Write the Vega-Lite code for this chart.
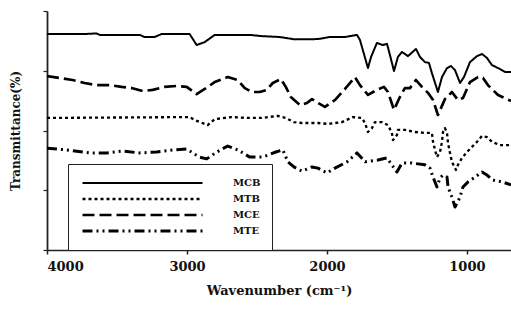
{
  "$schema": "https://vega.github.io/schema/vega-lite/v6.json",
  "width": 464,
  "height": 239,
  "autosize": "none",
  "padding": {"left": 47, "top": 11, "right": 0, "bottom": 59},
  "background": "white",
  "config": {
    "view": {"stroke": null},
    "font": "DejaVu Serif",
    "legend": {"symbolStrokeColor": "black"}
  },
  "datasets": {
    "spectra": [
      {"w": 4000, "t": 72.3, "s": "MCB"}, {"w": 3732, "t": 72.3, "s": "MCB"}, {"w": 3646, "t": 72.5, "s": "MCB"}, {"w": 3624, "t": 72.0, "s": "MCB"}, {"w": 3338, "t": 72.0, "s": "MCB"}, {"w": 3303, "t": 71.3, "s": "MCB"}, {"w": 3231, "t": 71.3, "s": "MCB"}, {"w": 3181, "t": 72.3, "s": "MCB"}, {"w": 2981, "t": 72.3, "s": "MCB"}, {"w": 2931, "t": 68.6, "s": "MCB"}, {"w": 2873, "t": 69.6, "s": "MCB"}, {"w": 2802, "t": 72.0, "s": "MCB"}, {"w": 2551, "t": 72.0, "s": "MCB"}, {"w": 2466, "t": 71.6, "s": "MCB"}, {"w": 2338, "t": 71.3, "s": "MCB"}, {"w": 2229, "t": 70.5, "s": "MCB"}, {"w": 2064, "t": 70.6, "s": "MCB"}, {"w": 1979, "t": 71.3, "s": "MCB"}, {"w": 1871, "t": 71.3, "s": "MCB"}, {"w": 1785, "t": 72.0, "s": "MCB"}, {"w": 1764, "t": 70.3, "s": "MCB"}, {"w": 1707, "t": 60.9, "s": "MCB"}, {"w": 1685, "t": 64.6, "s": "MCB"}, {"w": 1643, "t": 69.3, "s": "MCB"}, {"w": 1600, "t": 68.6, "s": "MCB"}, {"w": 1571, "t": 69.0, "s": "MCB"}, {"w": 1550, "t": 65.3, "s": "MCB"}, {"w": 1521, "t": 59.9, "s": "MCB"}, {"w": 1493, "t": 64.6, "s": "MCB"}, {"w": 1464, "t": 66.3, "s": "MCB"}, {"w": 1421, "t": 64.9, "s": "MCB"}, {"w": 1364, "t": 67.3, "s": "MCB"}, {"w": 1335, "t": 64.6, "s": "MCB"}, {"w": 1300, "t": 62.9, "s": "MCB"}, {"w": 1271, "t": 62.6, "s": "MCB"}, {"w": 1250, "t": 59.2, "s": "MCB"}, {"w": 1207, "t": 52.9, "s": "MCB"}, {"w": 1178, "t": 57.9, "s": "MCB"}, {"w": 1142, "t": 60.9, "s": "MCB"}, {"w": 1114, "t": 61.6, "s": "MCB"}, {"w": 1085, "t": 60.2, "s": "MCB"}, {"w": 1049, "t": 55.9, "s": "MCB"}, {"w": 1021, "t": 57.9, "s": "MCB"}, {"w": 978, "t": 62.9, "s": "MCB"}, {"w": 928, "t": 64.9, "s": "MCB"}, {"w": 892, "t": 65.6, "s": "MCB"}, {"w": 857, "t": 64.3, "s": "MCB"}, {"w": 821, "t": 61.9, "s": "MCB"}, {"w": 778, "t": 60.9, "s": "MCB"}, {"w": 728, "t": 59.6, "s": "MCB"}, {"w": 685, "t": 59.6, "s": "MCB"},

      {"w": 4000, "t": 44.2, "s": "MTB"}, {"w": 2981, "t": 44.5, "s": "MTB"}, {"w": 2945, "t": 43.5, "s": "MTB"}, {"w": 2852, "t": 41.8, "s": "MTB"}, {"w": 2802, "t": 43.8, "s": "MTB"}, {"w": 2680, "t": 44.5, "s": "MTB"}, {"w": 2566, "t": 44.2, "s": "MTB"}, {"w": 2466, "t": 44.2, "s": "MTB"}, {"w": 2351, "t": 44.9, "s": "MTB"}, {"w": 2294, "t": 44.2, "s": "MTB"}, {"w": 2236, "t": 42.8, "s": "MTB"}, {"w": 2179, "t": 42.5, "s": "MTB"}, {"w": 2064, "t": 42.5, "s": "MTB"}, {"w": 1993, "t": 42.2, "s": "MTB"}, {"w": 1893, "t": 42.8, "s": "MTB"}, {"w": 1814, "t": 44.5, "s": "MTB"}, {"w": 1750, "t": 44.2, "s": "MTB"}, {"w": 1728, "t": 42.5, "s": "MTB"}, {"w": 1707, "t": 39.5, "s": "MTB"}, {"w": 1678, "t": 40.8, "s": "MTB"}, {"w": 1657, "t": 42.8, "s": "MTB"}, {"w": 1607, "t": 42.8, "s": "MTB"}, {"w": 1564, "t": 41.8, "s": "MTB"}, {"w": 1536, "t": 39.2, "s": "MTB"}, {"w": 1528, "t": 36.8, "s": "MTB"}, {"w": 1500, "t": 38.5, "s": "MTB"}, {"w": 1493, "t": 40.2, "s": "MTB"}, {"w": 1443, "t": 40.2, "s": "MTB"}, {"w": 1371, "t": 39.5, "s": "MTB"}, {"w": 1300, "t": 39.2, "s": "MTB"}, {"w": 1250, "t": 39.2, "s": "MTB"}, {"w": 1242, "t": 36.2, "s": "MTB"}, {"w": 1228, "t": 33.5, "s": "MTB"}, {"w": 1214, "t": 31.1, "s": "MTB"}, {"w": 1192, "t": 32.8, "s": "MTB"}, {"w": 1178, "t": 36.2, "s": "MTB"}, {"w": 1171, "t": 39.5, "s": "MTB"}, {"w": 1157, "t": 40.8, "s": "MTB"}, {"w": 1142, "t": 39.2, "s": "MTB"}, {"w": 1135, "t": 35.8, "s": "MTB"}, {"w": 1121, "t": 32.5, "s": "MTB"}, {"w": 1107, "t": 29.5, "s": "MTB"}, {"w": 1078, "t": 26.8, "s": "MTB"}, {"w": 1064, "t": 28.5, "s": "MTB"}, {"w": 1035, "t": 30.8, "s": "MTB"}, {"w": 999, "t": 32.8, "s": "MTB"}, {"w": 964, "t": 34.5, "s": "MTB"}, {"w": 928, "t": 36.2, "s": "MTB"}, {"w": 892, "t": 38.2, "s": "MTB"}, {"w": 857, "t": 37.8, "s": "MTB"}, {"w": 821, "t": 36.2, "s": "MTB"}, {"w": 764, "t": 35.1, "s": "MTB"}, {"w": 685, "t": 35.1, "s": "MTB"},

      {"w": 4000, "t": 58.2, "s": "MCE"}, {"w": 3911, "t": 57.6, "s": "MCE"}, {"w": 3818, "t": 56.9, "s": "MCE"}, {"w": 3732, "t": 55.9, "s": "MCE"}, {"w": 3646, "t": 55.2, "s": "MCE"}, {"w": 3553, "t": 55.2, "s": "MCE"}, {"w": 3467, "t": 54.6, "s": "MCE"}, {"w": 3396, "t": 54.2, "s": "MCE"}, {"w": 3317, "t": 53.2, "s": "MCE"}, {"w": 3245, "t": 53.6, "s": "MCE"}, {"w": 3160, "t": 54.6, "s": "MCE"}, {"w": 3074, "t": 54.9, "s": "MCE"}, {"w": 3002, "t": 54.6, "s": "MCE"}, {"w": 2931, "t": 52.2, "s": "MCE"}, {"w": 2873, "t": 53.9, "s": "MCE"}, {"w": 2802, "t": 56.2, "s": "MCE"}, {"w": 2709, "t": 57.9, "s": "MCE"}, {"w": 2637, "t": 56.9, "s": "MCE"}, {"w": 2587, "t": 54.2, "s": "MCE"}, {"w": 2537, "t": 52.9, "s": "MCE"}, {"w": 2480, "t": 52.9, "s": "MCE"}, {"w": 2430, "t": 53.6, "s": "MCE"}, {"w": 2387, "t": 55.9, "s": "MCE"}, {"w": 2329, "t": 57.2, "s": "MCE"}, {"w": 2294, "t": 54.6, "s": "MCE"}, {"w": 2258, "t": 51.2, "s": "MCE"}, {"w": 2193, "t": 48.5, "s": "MCE"}, {"w": 2143, "t": 49.2, "s": "MCE"}, {"w": 2107, "t": 50.5, "s": "MCE"}, {"w": 2064, "t": 49.2, "s": "MCE"}, {"w": 2014, "t": 47.9, "s": "MCE"}, {"w": 1943, "t": 50.2, "s": "MCE"}, {"w": 1871, "t": 53.9, "s": "MCE"}, {"w": 1800, "t": 57.9, "s": "MCE"}, {"w": 1764, "t": 55.2, "s": "MCE"}, {"w": 1707, "t": 51.9, "s": "MCE"}, {"w": 1643, "t": 53.6, "s": "MCE"}, {"w": 1593, "t": 54.6, "s": "MCE"}, {"w": 1564, "t": 52.9, "s": "MCE"}, {"w": 1521, "t": 46.9, "s": "MCE"}, {"w": 1479, "t": 51.2, "s": "MCE"}, {"w": 1443, "t": 54.2, "s": "MCE"}, {"w": 1407, "t": 54.2, "s": "MCE"}, {"w": 1364, "t": 56.9, "s": "MCE"}, {"w": 1321, "t": 54.6, "s": "MCE"}, {"w": 1278, "t": 52.6, "s": "MCE"}, {"w": 1242, "t": 50.2, "s": "MCE"}, {"w": 1207, "t": 45.2, "s": "MCE"}, {"w": 1157, "t": 50.5, "s": "MCE"}, {"w": 1107, "t": 52.9, "s": "MCE"}, {"w": 1064, "t": 50.2, "s": "MCE"}, {"w": 1028, "t": 50.9, "s": "MCE"}, {"w": 978, "t": 56.2, "s": "MCE"}, {"w": 921, "t": 57.9, "s": "MCE"}, {"w": 885, "t": 57.6, "s": "MCE"}, {"w": 850, "t": 55.2, "s": "MCE"}, {"w": 778, "t": 51.9, "s": "MCE"}, {"w": 685, "t": 49.9, "s": "MCE"},

      {"w": 4000, "t": 34.1, "s": "MTE"}, {"w": 3861, "t": 33.5, "s": "MTE"}, {"w": 3696, "t": 32.5, "s": "MTE"}, {"w": 3574, "t": 32.5, "s": "MTE"}, {"w": 3460, "t": 33.1, "s": "MTE"}, {"w": 3338, "t": 32.5, "s": "MTE"}, {"w": 3217, "t": 32.8, "s": "MTE"}, {"w": 3102, "t": 33.5, "s": "MTE"}, {"w": 3002, "t": 33.8, "s": "MTE"}, {"w": 2959, "t": 32.5, "s": "MTE"}, {"w": 2909, "t": 31.1, "s": "MTE"}, {"w": 2859, "t": 30.5, "s": "MTE"}, {"w": 2787, "t": 32.8, "s": "MTE"}, {"w": 2709, "t": 34.8, "s": "MTE"}, {"w": 2637, "t": 33.5, "s": "MTE"}, {"w": 2551, "t": 31.1, "s": "MTE"}, {"w": 2458, "t": 31.1, "s": "MTE"}, {"w": 2365, "t": 32.8, "s": "MTE"}, {"w": 2315, "t": 33.5, "s": "MTE"}, {"w": 2279, "t": 29.5, "s": "MTE"}, {"w": 2236, "t": 27.8, "s": "MTE"}, {"w": 2179, "t": 26.4, "s": "MTE"}, {"w": 2107, "t": 27.8, "s": "MTE"}, {"w": 2064, "t": 27.4, "s": "MTE"}, {"w": 2000, "t": 25.8, "s": "MTE"}, {"w": 1943, "t": 27.4, "s": "MTE"}, {"w": 1857, "t": 29.5, "s": "MTE"}, {"w": 1785, "t": 32.5, "s": "MTE"}, {"w": 1728, "t": 29.5, "s": "MTE"}, {"w": 1636, "t": 30.1, "s": "MTE"}, {"w": 1571, "t": 30.8, "s": "MTE"}, {"w": 1536, "t": 28.5, "s": "MTE"}, {"w": 1500, "t": 26.1, "s": "MTE"}, {"w": 1464, "t": 29.1, "s": "MTE"}, {"w": 1393, "t": 29.1, "s": "MTE"}, {"w": 1300, "t": 28.5, "s": "MTE"}, {"w": 1264, "t": 27.4, "s": "MTE"}, {"w": 1242, "t": 24.4, "s": "MTE"}, {"w": 1214, "t": 21.1, "s": "MTE"}, {"w": 1192, "t": 24.1, "s": "MTE"}, {"w": 1171, "t": 25.1, "s": "MTE"}, {"w": 1142, "t": 24.4, "s": "MTE"}, {"w": 1135, "t": 21.1, "s": "MTE"}, {"w": 1107, "t": 17.7, "s": "MTE"}, {"w": 1085, "t": 14.4, "s": "MTE"}, {"w": 1049, "t": 17.7, "s": "MTE"}, {"w": 1028, "t": 21.1, "s": "MTE"}, {"w": 992, "t": 22.8, "s": "MTE"}, {"w": 942, "t": 24.4, "s": "MTE"}, {"w": 892, "t": 26.1, "s": "MTE"}, {"w": 857, "t": 25.1, "s": "MTE"}, {"w": 814, "t": 23.4, "s": "MTE"}, {"w": 749, "t": 22.8, "s": "MTE"}, {"w": 685, "t": 21.8, "s": "MTE"}
    ]
  },
  "layer": [
    {
      "mark": {"type": "rule", "color": "#555555", "strokeWidth": 1.2},
      "encoding": {"y": {"datum": 80, "type": "quantitative"}}
    },
    {
      "data": {"name": "spectra"},
      "mark": {"type": "line", "color": "black", "strokeCap": "butt", "strokeJoin": "round", "clip": true},
      "encoding": {
        "x": {
          "field": "w", "type": "quantitative",
          "scale": {"domain": [4000, 685], "nice": false, "zero": false},
          "axis": {
            "values": [4000, 3000, 2000, 1000], "format": "d", "grid": false,
            "domainColor": "#222222", "domainWidth": 1.5,
            "tickColor": "#222222", "tickSize": 4, "tickWidth": 1.5,
            "labelFont": "DejaVu Serif", "labelFontWeight": "bold", "labelFontSize": 13, "labelColor": "#111111",
            "labelPadding": 6,
            "title": "Wavenumber (cm⁻¹)", "titleFont": "DejaVu Serif", "titleFontWeight": "bold", "titleFontSize": 13,
            "titleColor": "#111111", "titlePadding": 11
          }
        },
        "y": {
          "field": "t", "type": "quantitative",
          "scale": {"domain": [0, 80], "nice": false, "zero": false},
          "axis": {
            "values": [0, 10, 20, 30, 40, 50, 60, 70, 80], "labels": false, "grid": false,
            "domainColor": "#222222", "domainWidth": 1.8,
            "tickColor": "#222222", "tickSize": 4, "tickWidth": 1.2,
            "title": "Transmittance(%)", "titleFont": "DejaVu Serif", "titleFontWeight": "bold", "titleFontSize": 12,
            "titleColor": "#111111", "titlePadding": 20
          }
        },
        "strokeDash": {
          "field": "s", "type": "nominal",
          "scale": {"domain": ["MCB", "MTB", "MCE", "MTE"], "range": [[1, 0], [3, 3], [12, 5], [10, 4, 2, 4, 2, 4]]},
          "legend": {
            "title": null, "orient": "none", "legendX": 21, "legendY": 153,
            "fillColor": "white", "strokeColor": "#222222", "padding": 11,
            "symbolType": "stroke", "symbolSize": 14400, "symbolStrokeColor": "black", "symbolOffset": 2,
            "clipHeight": 16, "rowPadding": 0, "labelOffset": 29,
            "labelFont": "DejaVu Serif", "labelFontWeight": "bold", "labelFontSize": 10, "labelColor": "#111111"
          }
        },
        "strokeWidth": {
          "field": "s", "type": "nominal",
          "scale": {"domain": ["MCB", "MTB", "MCE", "MTE"], "range": [2, 3, 2, 1.6]},
          "legend": {
            "title": null, "orient": "none", "legendX": 21, "legendY": 153,
            "fillColor": "white", "strokeColor": "#222222", "padding": 11,
            "symbolType": "stroke", "symbolSize": 14400, "symbolStrokeColor": "black", "symbolOffset": 2,
            "clipHeight": 16, "rowPadding": 0, "labelOffset": 29,
            "labelFont": "DejaVu Serif", "labelFontWeight": "bold", "labelFontSize": 10, "labelColor": "#111111"
          }
        }
      }
    }
  ]
}
